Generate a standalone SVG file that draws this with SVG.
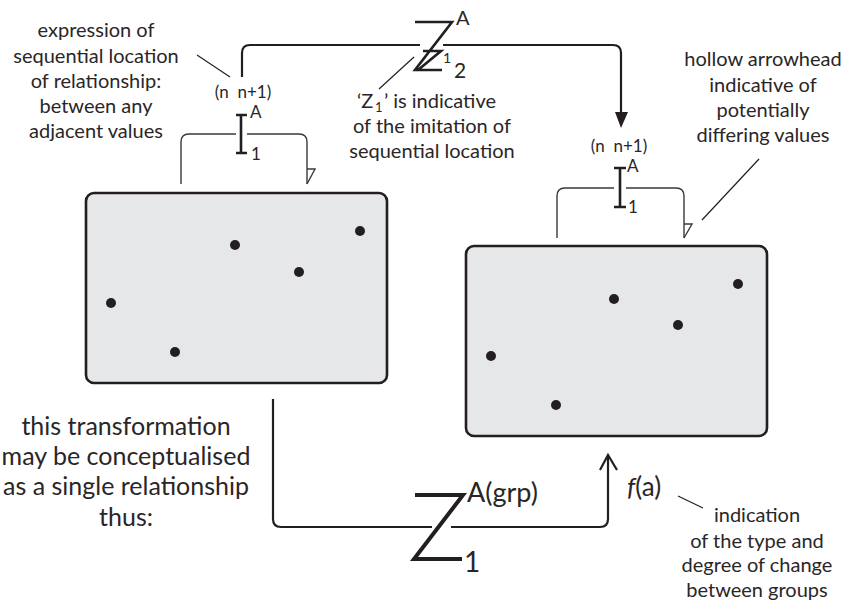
<svg xmlns="http://www.w3.org/2000/svg" width="853" height="606" viewBox="0 0 853 606">
<defs>
<style>
.t{font-family:Lato,"Open Sans","DejaVu Sans",sans-serif;fill:#2a2627;text-anchor:middle}
.a{font-size:20px}
.b{font-size:25px}
.s{font-size:17px}
.l{font-family:Lato,"Open Sans","DejaVu Sans",sans-serif;fill:#2a2627}
.box{fill:#e6e7e8;stroke:#231f20;stroke-width:2.6}
.dot{fill:#231f20}
.ln{fill:none;stroke:#231f20;stroke-width:1.2}
.br{fill:none;stroke:#3a3a3a;stroke-width:1.4}
.c2{fill:none;stroke:#231f20;stroke-width:2.2}
.sym{fill:none;stroke:#231f20;stroke-width:2.6}
.zb{fill:none;stroke:#231f20;stroke-width:4}
</style>
</defs>
<rect width="853" height="606" fill="#fff"/>

<g id="connectors">
  <path class="c2" d="M242,77 V53 Q242,45 250,45 H420 M443,45 H613 Q621,45 621,53 V113"/>
  <polygon points="615,112 628,112 621,128" fill="#231f20"/>
  <path class="c2" d="M273,399 V519 Q273,527 281,527 H432 M451,527 H600 Q608,527 608,519 V456"/>
  <polyline class="c2" points="600,470 608,455 617,470"/>
  <path class="br" d="M181,184 V142 Q181,134 189,134 H236 M247,134 H299 Q307,134 307,142 V184"/>
  <polyline class="br" points="307,169 315,169 307,184"/>
  <path class="br" d="M557,238 V196 Q557,188 565,188 H614 M626,188 H676 Q684,188 684,196 V238"/>
  <polyline class="br" points="684,224 692,224 684,238"/>
  <line class="ln" x1="197" y1="55" x2="230" y2="77"/>
  <line class="ln" x1="414" y1="57" x2="379" y2="89"/>
  <line class="ln" x1="759" y1="159" x2="702" y2="220"/>
  <line class="ln" x1="678" y1="496" x2="703" y2="508"/>
</g>

<g id="box-left">
  <rect class="box" x="86" y="193" width="301" height="190" rx="8"/>
  <circle class="dot" cx="111" cy="303" r="5"/>
  <circle class="dot" cx="175" cy="352" r="5"/>
  <circle class="dot" cx="235" cy="245" r="5"/>
  <circle class="dot" cx="299" cy="272" r="5"/>
  <circle class="dot" cx="360" cy="231" r="5"/>
</g>

<g id="box-right">
  <rect class="box" x="466" y="246" width="301" height="190" rx="8"/>
  <circle class="dot" cx="491" cy="356" r="5"/>
  <circle class="dot" cx="556" cy="405" r="5"/>
  <circle class="dot" cx="614" cy="299" r="5"/>
  <circle class="dot" cx="678" cy="325" r="5"/>
  <circle class="dot" cx="738" cy="284" r="5"/>
</g>

<g id="symbol-left">
  <path class="sym" d="M236,115 H247 M241,115 V153 M236,153 H247"/>
  <text class="l" x="250" y="118" font-size="17">A</text>
  <text class="l" x="251" y="160" font-size="17">1</text>
  <text class="t s" x="243" y="98">(n&#160;&#160;n+1)</text>
</g>

<g id="symbol-right">
  <path class="sym" d="M614,168 H626 M620,168 V207 M614,207 H626"/>
  <text class="l" x="627" y="172" font-size="17">A</text>
  <text class="l" x="628" y="213" font-size="17">1</text>
  <text class="t s" x="619" y="152">(n&#160;&#160;n+1)</text>
</g>

<g id="symbol-top">
  <path class="sym" d="M415,22 H452 L415,70 H442 M423,51 H441 L418,70"/>
  <text class="l" x="456" y="25" font-size="20">A</text>
  <text class="l" x="443" y="63" font-size="14">1</text>
  <text class="l" x="454" y="78" font-size="21">2</text>
</g>

<g id="symbol-bottom">
  <path class="zb" d="M415,495 H463 L414,559 H462"/>
  <text class="l" x="467" y="502" font-size="27">A(grp)</text>
  <text class="l" x="464" y="572" font-size="28">1</text>
  <text class="l" x="627" y="496" font-size="26"><tspan font-style="italic">f</tspan>(a)</text>
</g>

<g id="note-sequential">
  <text class="t a" x="96" y="37">expression of</text>
  <text class="t a" x="96" y="63">sequential location</text>
  <text class="t a" x="96" y="88">of relationship:</text>
  <text class="t a" x="96" y="113">between any</text>
  <text class="t a" x="96" y="138">adjacent values</text>
</g>

<g id="note-z">
  <text class="l" x="357" y="108" font-size="20">‘Z</text>
  <text class="l" x="375" y="112" font-size="13">1</text>
  <text class="l" x="384" y="108" font-size="20">’ is indicative</text>
  <text class="t a" x="432" y="133">of the imitation of</text>
  <text class="t a" x="432" y="158">sequential location</text>
</g>

<g id="note-hollow">
  <text class="t a" x="763" y="66">hollow arrowhead</text>
  <text class="t a" x="763" y="92">indicative of</text>
  <text class="t a" x="763" y="117">potentially</text>
  <text class="t a" x="763" y="142">differing values</text>
</g>

<g id="note-transformation">
  <text class="t b" x="126" y="435">this transformation</text>
  <text class="t b" x="126" y="465">may be conceptualised</text>
  <text class="t b" x="126" y="495">as a single relationship</text>
  <text class="t b" x="126" y="526">thus:</text>
</g>

<g id="note-change">
  <text class="t a" x="757" y="522">indication</text>
  <text class="t a" x="757" y="548">of the type and</text>
  <text class="t a" x="757" y="572">degree of change</text>
  <text class="t a" x="757" y="597">between groups</text>
</g>
</svg>
